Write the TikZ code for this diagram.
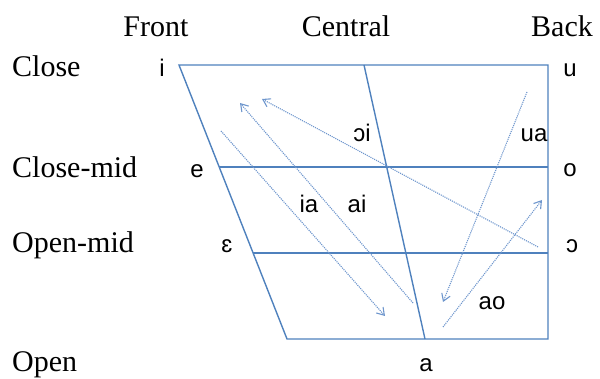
\documentclass[tikz,border=0pt]{standalone}
\usepackage{fontspec}
\setmainfont{Liberation Serif}
\newfontfamily\vsans{Liberation Sans}
\usetikzlibrary{arrows.meta}
\definecolor{frame}{RGB}{79,129,189}
\definecolor{arr}{RGB}{110,150,205}
\tikzset{
  x=1pt,y=-1pt,
  frameline/.style={draw=frame,line width=1.4pt},
  glide/.style={draw=arr,line width=1.1pt,densely dotted,-{Straight Barb[length=7pt,width=9pt]}},
  axislab/.style={anchor=base,inner sep=0pt,font=\fontsize{30}{34}\selectfont},
  rowlab/.style={anchor=base west,inner sep=0pt,font=\fontsize{30}{34}\selectfont},
  vlab/.style={anchor=base,inner sep=0pt,font=\vsans\fontsize{24}{28}\selectfont},
}
\begin{document}
\begin{tikzpicture}
\useasboundingbox (0,0) rectangle (600,379);
% frame corners
\coordinate (TL) at (179,65);
\coordinate (TR) at (548,65);
\coordinate (BR) at (548,339);
\coordinate (BL) at (287,339);
\coordinate (CT) at (364,65);
\coordinate (CB) at (425,339);
\coordinate (M1L) at (219,167);
\coordinate (M1R) at (548,167);
\coordinate (M2L) at (253,253);
\coordinate (M2R) at (548,253);
\draw[frameline] (TL) -- (TR) -- (BR) -- (BL) -- cycle;
\draw[frameline] (CT) -- (CB);
\draw[frameline] (M1L) -- (M1R);
\draw[frameline] (M2L) -- (M2R);
% axis labels
\node[axislab] (front) at (156,37) {Front};
\node[axislab] (central) at (346,37) {Central};
\node[axislab] (back) at (562,37) {Back};
\node[rowlab] (close) at (12,77) {Close};
\node[rowlab] (closemid) at (12,178) {Close-mid};
\node[rowlab] (openmid) at (12,253) {Open-mid};
\node[rowlab] (open) at (12,371) {Open};
% vowels
\node[vlab] (vi) at (162,77) {i};
\node[vlab] (ve) at (197,178) {e};
\node[vlab] (veps) at (227,253) {ɛ};
\node[vlab] (vu) at (570,77) {u};
\node[vlab] (vo) at (570,177) {o};
\node[vlab] (vopen) at (572,253) {ɔ};
\node[vlab] (va) at (426,372) {a};
% diphthong labels
\node[vlab] (doi) at (362,142) {ɔi};
\node[vlab] (dua) at (534,142) {ua};
\node[vlab] (dia) at (309,213) {ia};
\node[vlab] (dai) at (357,213) {ai};
\node[vlab] (dao) at (492,310) {ao};
% glide arrows
\coordinate (ia0) at (221,131); \coordinate (ia1) at (385,316);
\coordinate (ai0) at (413,303); \coordinate (ai1) at (240,103);
\coordinate (oi0) at (538,247); \coordinate (oi1) at (262,99);
\coordinate (ua0) at (527,92);  \coordinate (ua1) at (443,302);
\coordinate (ao0) at (443,327); \coordinate (ao1) at (542,200);
\draw[glide] (ia0) -- (ia1);
\draw[glide] (ai0) -- (ai1);
\draw[glide] (oi0) -- (oi1);
\draw[glide] (ua0) -- (ua1);
\draw[glide] (ao0) -- (ao1);
\end{tikzpicture}
\end{document}
